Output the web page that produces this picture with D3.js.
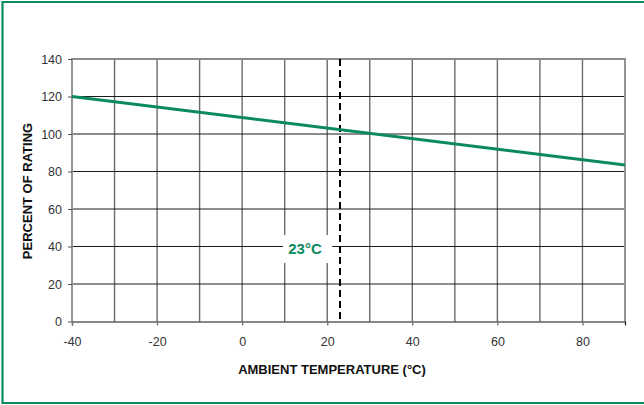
<!DOCTYPE html>
<html lang="en">
<head>
<meta charset="utf-8">
<script src="https://d3js.org/d3.v7.min.js"></script>
<style>
  body { margin: 0; background: #fff; }
  svg { display: block; font-family: "Liberation Sans", Arial, sans-serif; }
  .tick text { font-size: 12.5px; fill: #333; }
</style>
</head>
<body>
<div id="chart"></div>
<script>
var w = 644, h = 405;

// data
var temps = [-40, 90];          // ambient temperature, degC
var rating = [120, 83.5];       // percent of rating
var xTicks = [-40, -20, 0, 20, 40, 60, 80];
var yTicks = [0, 20, 40, 60, 80, 100, 120, 140];
var xGrid = [-30, -20, -10, 0, 10, 20, 30, 40, 50, 60, 70, 80];
var yGrid = [20, 40, 60, 80, 100, 120];
var refTemp = 23;
var refLabel = "23°C";

var green = "#0b8a5c";

var m = {left: 72, right: 19, top: 59, bottom: 84};

var svg = d3.select("#chart").append("svg")
  .attr("width", w)
  .attr("height", h);

// outer frame (no right edge)
svg.append("path")
  .attr("d", "M" + w + ",2H2.5V403H" + w)
  .attr("fill", "none")
  .attr("stroke", green)
  .attr("stroke-width", 2.2);

var x = d3.scaleLinear().domain([-40, 90]).range([m.left, w - m.right]);
var y = d3.scaleLinear().domain([0, 140]).range([h - m.bottom + 0.5, m.top]);

// grid
svg.append("g").selectAll("line")
  .data(xGrid).enter().append("line")
  .attr("x1", function(d) { return x(d); })
  .attr("x2", function(d) { return x(d); })
  .attr("y1", y(0)).attr("y2", y(140))
  .attr("stroke", "#6b6b6b").attr("stroke-width", 1.4);

svg.append("g").selectAll("line")
  .data(yGrid).enter().append("line")
  .attr("x1", x(-40)).attr("x2", x(90))
  .attr("y1", function(d) { return y(d); })
  .attr("y2", function(d) { return y(d); })
  .attr("stroke", "#1a1a1a").attr("stroke-width", 1);

// frame of the plot
svg.append("path")
  .attr("d", "M" + x(-40) + "," + y(0) + "V" + y(140) + "H" + x(90) + "V" + y(0))
  .attr("fill", "none")
  .attr("stroke", "#8a8a8a")
  .attr("stroke-width", 1.8);

// axes
var fmt = function(d) { return String(d); };

var xAxis = svg.append("g")
  .attr("transform", "translate(0," + y(0) + ")")
  .call(d3.axisBottom(x).tickValues(xTicks).tickSize(4).tickPadding(12).tickFormat(fmt));
xAxis.select(".domain").attr("stroke", "#111").attr("stroke-width", 1.2);
xAxis.selectAll(".tick line").attr("stroke", "#777").attr("stroke-width", 1.4);

var yAxis = svg.append("g")
  .attr("transform", "translate(" + x(-40) + ",0)")
  .call(d3.axisLeft(y).tickValues(yTicks).tickSize(4).tickPadding(6).tickFormat(fmt));
yAxis.select(".domain").remove();
yAxis.selectAll(".tick line").attr("stroke", "#555");

// reference label background + dashed line
svg.append("rect")
  .attr("x", 283).attr("y", 235)
  .attr("width", x(20) + 5 - 283).attr("height", 28)
  .attr("fill", "#fff");

svg.append("line")
  .attr("x1", x(refTemp)).attr("x2", x(refTemp))
  .attr("y1", y(140)).attr("y2", y(0))
  .attr("stroke", "#000")
  .attr("stroke-width", 2)
  .attr("stroke-dasharray", "7,4");

svg.append("text")
  .attr("x", 305).attr("y", 254)
  .attr("text-anchor", "middle")
  .attr("font-size", "15px")
  .attr("font-weight", "bold")
  .attr("fill", green)
  .text(refLabel);

// rating line
var line = d3.line()
  .x(function(d, i) { return x(temps[i]); })
  .y(function(d) { return y(d); });

svg.append("path")
  .datum(rating)
  .attr("d", line)
  .attr("fill", "none")
  .attr("stroke", green)
  .attr("stroke-width", 3);

// axis titles
svg.append("text")
  .attr("x", 332).attr("y", 374)
  .attr("text-anchor", "middle")
  .attr("font-size", "13px")
  .attr("font-weight", "bold")
  .attr("fill", "#111")
  .text("AMBIENT TEMPERATURE (°C)");

svg.append("text")
  .attr("transform", "translate(32,191) rotate(-90)")
  .attr("text-anchor", "middle")
  .attr("font-size", "13px")
  .attr("font-weight", "bold")
  .attr("fill", "#111")
  .text("PERCENT OF RATING");
</script>
</body>
</html>
